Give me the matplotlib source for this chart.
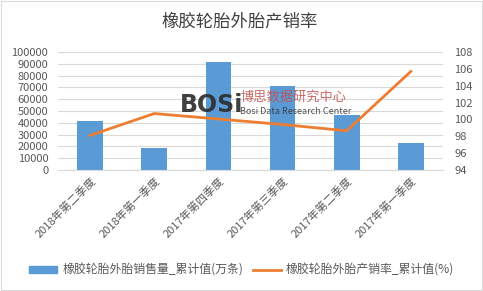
import matplotlib
matplotlib.use("Agg")
import matplotlib.pyplot as plt
from matplotlib.patches import Rectangle
from matplotlib.lines import Line2D

plt.rcParams["font.family"] = ["Noto Sans CJK SC", "DejaVu Sans"]

quarters = ["2018年第二季度", "2018年第一季度", "2017年第四季度",
            "2017年第三季度", "2017年第二季度", "2017年第一季度"]
sales = [41500, 18900, 91500, 71200, 46600, 22900]
rate = [98.1, 100.7, 100.05, 99.4, 98.65, 105.7]

bar_label = "橡胶轮胎外胎销售量_累计值(万条)"
line_label = "橡胶轮胎外胎产销率_累计值(%)"

BLUE = "#5B9BD5"
ORANGE = "#ED7D31"
GRID = "#D9D9D9"
TXT = "#595959"

fig = plt.figure(figsize=(4.83, 2.91), dpi=100)
ax = fig.add_axes([0.12, 0.416, 0.797, 0.405])
x = list(range(len(quarters)))
ax.bar(x, sales, width=0.4, color=BLUE, zorder=2)
ax.set_ylim(0, 100000)
ax.set_yticks(range(0, 100001, 10000))
ax.set_xlim(-0.5, len(quarters) - 0.5)
ax.grid(axis="y", color=GRID, linewidth=0.8, zorder=0)
for s in ["top", "left", "right"]:
    ax.spines[s].set_visible(False)
ax.spines["bottom"].set_color(GRID)
ax.tick_params(axis="y", length=0, labelsize=8, colors=TXT, pad=7)
ax.tick_params(axis="x", length=0, labelsize=8, colors=TXT, pad=4)
ax.set_xticks(x)
ax.set_xticklabels(quarters, rotation=45, ha="right", rotation_mode="anchor")

ax2 = ax.twinx()
ax2.plot(x, rate, color=ORANGE, linewidth=2, zorder=3)
ax2.set_ylim(94, 108)
ax2.set_yticks(range(94, 109, 2))
for s in ax2.spines.values():
    s.set_visible(False)
ax2.tick_params(axis="y", length=0, labelsize=8, colors=TXT, pad=8)

fig.text(0.497, 0.925, "橡胶轮胎外胎产销率", ha="center", va="center",
         fontsize=12.5, color="#404040")

# watermark
fig.text(0.372, 0.64, "BOSi", fontsize=17, fontweight="heavy",
         color="#2b2b2b", alpha=0.9, ha="left", va="center",
         family="DejaVu Sans")
fig.text(0.497, 0.667, "博思数据研究中心", fontsize=9.5, color="#C0504D",
         alpha=0.85, ha="left", va="center")
fig.text(0.497, 0.617, "Bosi Data Research Center", fontsize=6.5,
         color="#333333", alpha=0.85, ha="left", va="center")

handles = [Rectangle((0, 0), 1, 1, color=BLUE),
           Line2D([0], [0], color=ORANGE, linewidth=2)]
fig.legend(handles, [bar_label, line_label], loc="center",
           bbox_to_anchor=(0.5, 0.072), ncol=2, frameon=False, fontsize=8.6,
           handlelength=2.4, handleheight=0.6, handletextpad=0.4,
           columnspacing=0.8, labelcolor=TXT)

fig.add_artist(Rectangle((0.002, 0.003), 0.995, 0.994, transform=fig.transFigure,
                         fill=False, edgecolor=GRID, linewidth=0.8))

fig.savefig("out.png", dpi=100)
